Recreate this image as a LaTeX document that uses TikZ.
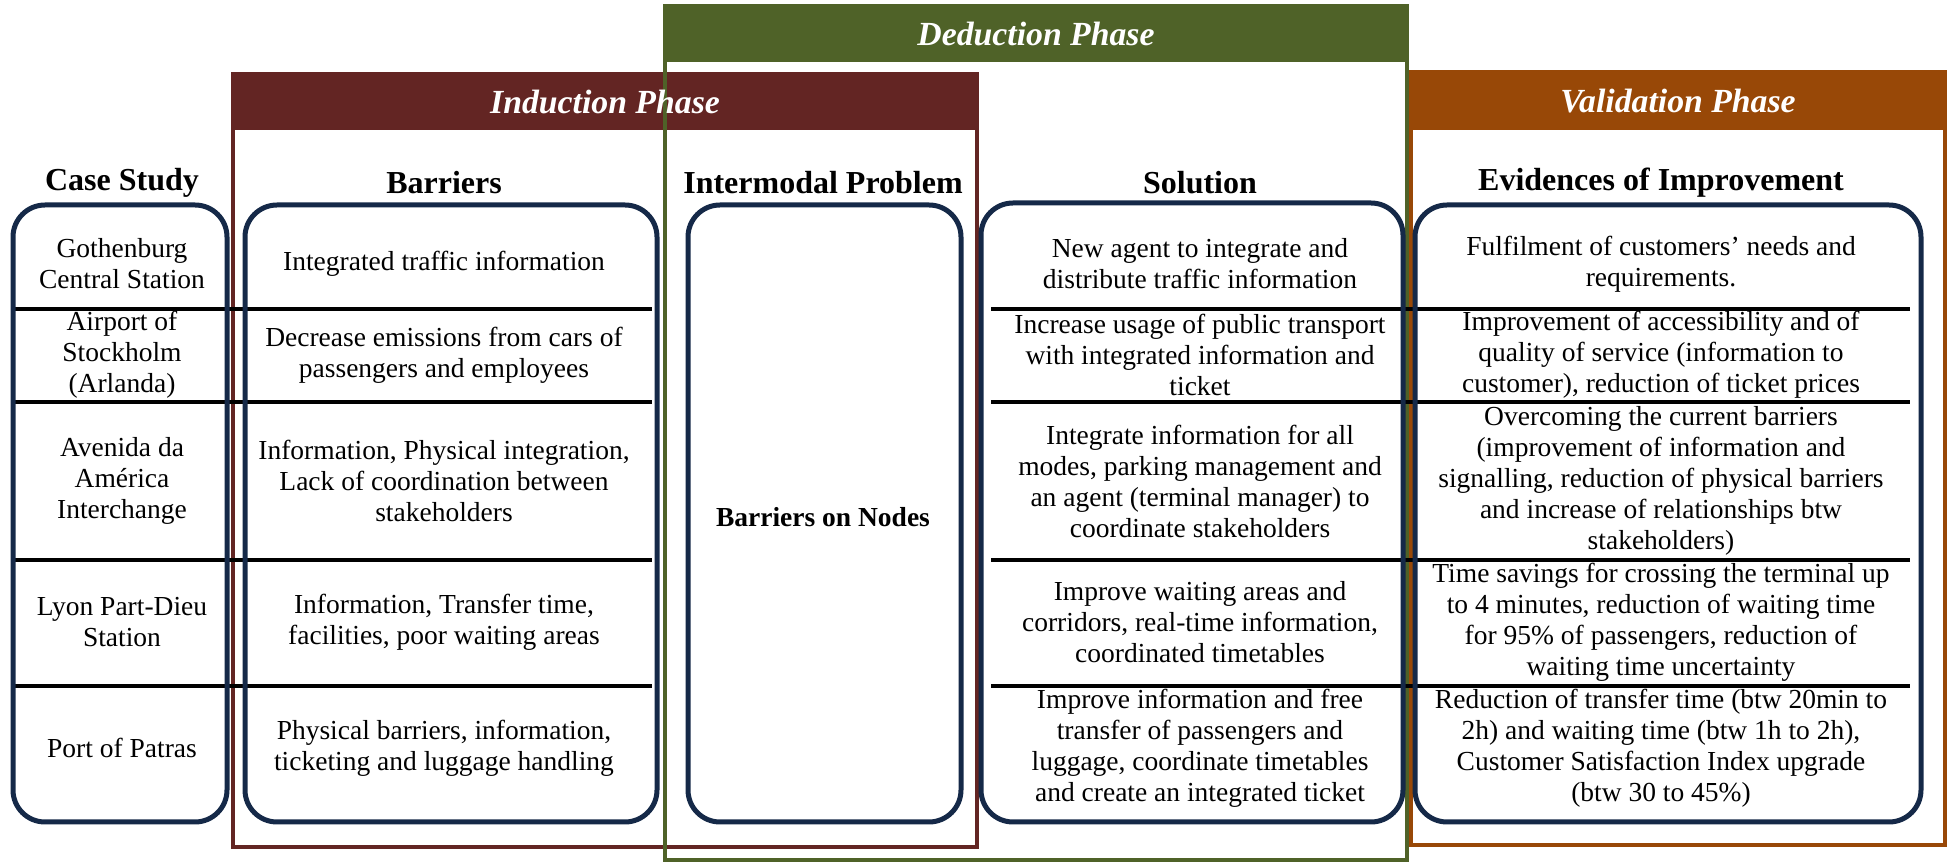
\documentclass[tikz,border=0pt]{standalone}
\usepackage{fontspec}
\setmainfont{Liberation Serif}
\definecolor{dedgreen}{HTML}{4F6228}
\definecolor{indred}{HTML}{632523}
\definecolor{valorange}{HTML}{984807}
\definecolor{navy}{RGB}{21,41,72}
\begin{document}
\begin{tikzpicture}[x=0.4pt,y=-0.4pt,
  body/.style={font=\fontsize{11}{12.4}\selectfont, align=center, inner sep=0pt},
  colhead/.style={font=\fontsize{12.8}{14}\selectfont\bfseries, inner sep=0pt},
  phasehead/.style={font=\fontsize{13.5}{15}\selectfont\bfseries\itshape, text=white, inner sep=0pt},
  rbox/.style={draw=navy, line width=2pt, rounded corners=12.8pt},
  divider/.style={line width=1.4pt, draw=black},
  frame/.style={line width=1.6pt}
]
\useasboundingbox (0,0) rectangle (1948,864);

% phase frames
\draw[frame, draw=indred] (233,74) rectangle (977,847);
\fill[indred] (233,74) rectangle (977,130);
\draw[frame, draw=dedgreen] (665,6) rectangle (1407,860);
\fill[dedgreen] (665,6) rectangle (1407,62);
\draw[frame, draw=valorange] (1411,72) rectangle (1945,845);
\fill[valorange] (1411,72) rectangle (1945,130);

\node[phasehead] (ind) at (605,102) {Induction Phase};
\node[phasehead] (ded) at (1036,34) {Deduction Phase};
\node[phasehead] (val) at (1678,101) {Validation Phase};

% column headers
\node[colhead] (hcase) at (122,183) {Case Study};
\node[colhead] (hbar) at (444,183) {Barriers};
\node[colhead] (hint) at (823,183) {Intermodal Problem};
\node[colhead] (hsol) at (1200,183) {Solution};
\node[colhead] (hevi) at (1661,183) {Evidences of Improvement};

% row dividers
\foreach \yy in {309,402,560,686} {
  \draw[divider] (15,\yy) -- (652,\yy);
  \draw[divider] (991,\yy) -- (1910,\yy);
}

% rounded boxes
\draw[rbox] (13,205) rectangle (227,822);
\draw[rbox] (245,205) rectangle (657,822);
\draw[rbox] (688,205) rectangle (961,822);
\draw[rbox] (981,203) rectangle (1403,822);
\draw[rbox] (1415,205) rectangle (1921,822);

% case study
\node[body] (c1) at (122,264) {Gothenburg\\Central Station};
\node[body] (c2) at (122,355) {Airport of\\Stockholm\\(Arlanda)};
\node[body] (c3) at (122,481) {Avenida da\\América\\Interchange};
\node[body] (c4) at (122,622) {Lyon Part-Dieu\\Station};
\node[body] (c5) at (122,748) {Port of Patras};

% barriers
\node[body] (b1) at (444,264) {Integrated traffic information};
\node[body] (b2) at (444,355) {Decrease emissions from cars of\\passengers and employees};
\node[body] (b3) at (444,481) {Information, Physical integration,\\Lack of coordination between\\stakeholders};
\node[body] (b4) at (444,622) {Information, Transfer time,\\facilities, poor waiting areas};
\node[body] (b5) at (444,748) {Physical barriers, information,\\ticketing and luggage handling};

% intermodal problem
\node[body, font=\fontsize{11}{12.4}\selectfont\bfseries] (ip) at (823,517) {Barriers on Nodes};

% solution
\node[body] (s1) at (1200,264) {New agent to integrate and\\distribute traffic information};
\node[body] (s2) at (1200,355) {Increase usage of public transport\\with integrated information and\\ticket};
\node[body] (s3) at (1200,481) {Integrate information for all\\modes, parking management and\\an agent (terminal manager) to\\coordinate stakeholders};
\node[body] (s4) at (1200,622) {Improve waiting areas and\\corridors, real-time information,\\coordinated timetables};
\node[body] (s5) at (1200,748) {Improve information and free\\transfer of passengers and\\luggage, coordinate timetables\\and create an integrated ticket};

% evidences
\node[body] (e1) at (1661,264) {Fulfilment of customers’ needs and\\requirements.};
\node[body] (e2) at (1661,355) {Improvement of accessibility and of\\quality of service (information to\\customer), reduction of ticket prices};
\node[body] (e3) at (1661,481) {Overcoming the current barriers\\(improvement of information and\\signalling, reduction of physical barriers\\and increase of relationships btw\\stakeholders)};
\node[body] (e4) at (1661,622) {Time savings for crossing the terminal up\\to 4 minutes, reduction of waiting time\\for 95\% of passengers, reduction of\\waiting time uncertainty};
\node[body] (e5) at (1661,748) {Reduction of transfer time (btw 20min to\\2h) and waiting time (btw 1h to 2h),\\Customer Satisfaction Index upgrade\\(btw 30 to 45\%)};
\end{tikzpicture}
\end{document}
